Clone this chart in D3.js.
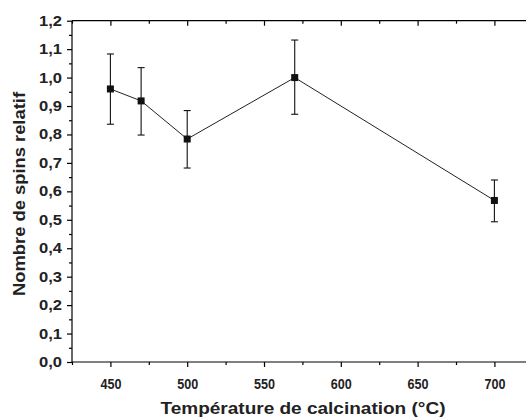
<!DOCTYPE html>
<html><head><meta charset="utf-8">
<script src="https://cdn.jsdelivr.net/npm/d3@7"></script>
<style>body{margin:0;background:#fff}svg{display:block}</style>
</head><body>
<script>
const temperatures = [450, 470, 500, 570, 700];
const spins = [0.96, 0.918, 0.784, 1.0, 0.568];
const errUpper = [1.083, 1.035, 0.884, 1.132, 0.640];
const errLower = [0.836, 0.798, 0.682, 0.871, 0.493];
const xTicks = [450, 500, 550, 600, 650, 700];
const xMinor = [425, 475, 525, 575, 625, 675, 725];
const yTicks = [0,0.1,0.2,0.3,0.4,0.5,0.6,0.7,0.8,0.9,1.0,1.1,1.2];
const yMinor = [0.05,0.15,0.25,0.35,0.45,0.55,0.65,0.75,0.85,0.95,1.05,1.15];
const xTitle = "Température de calcination (°C)";
const yTitle = "Nombre de spins relatif";

const W = 526, H = 419;
const svg = d3.select("body").append("svg").attr("width", W).attr("height", H);
const x = d3.scaleLinear().domain([425, 725]).range([72, 532.8]);
const y = d3.scaleLinear().domain([0, 1.2]).range([362, 20.7]);
const fmt = d => d3.format(".1f")(d).replace(".", ",");
const font = "'Liberation Sans', Arial, sans-serif";

const g = svg.append("g");
g.append("line").attr("x1", x(425)).attr("x2", W + 5).attr("y1", y(0)).attr("y2", y(0)).attr("stroke", "#000").attr("stroke-width", 1.2);
g.append("line").attr("x1", x(425)).attr("x2", W + 5).attr("y1", y(1.2)).attr("y2", y(1.2)).attr("stroke", "#000").attr("stroke-width", 1.2);
g.append("line").attr("x1", x(425)).attr("x2", x(425)).attr("y1", y(0)).attr("y2", y(1.2)).attr("stroke", "#000").attr("stroke-width", 1.2);

// bottom axis
const xb = d3.axisBottom(x).tickValues(xTicks).tickSize(5).tickPadding(11).tickFormat(d3.format("d"));
const gb = svg.append("g").attr("transform", `translate(0,${y(0)})`).call(xb);
gb.select(".domain").remove();
gb.selectAll("text").attr("font-family", font).attr("font-weight", "bold").attr("font-size", 15).attr("fill", "#222")
  .attr("textLength", 21).attr("lengthAdjust", "spacingAndGlyphs");
const xbm = d3.axisBottom(x).tickValues(xMinor).tickSize(3).tickFormat("");
svg.append("g").attr("transform", `translate(0,${y(0)})`).call(xbm).select(".domain").remove();
// top axis (inward ticks)
const xt = d3.axisBottom(x).tickValues(xTicks).tickSize(5).tickFormat("");
svg.append("g").attr("transform", `translate(0,${y(1.2)})`).call(xt).select(".domain").remove();
const xtm = d3.axisBottom(x).tickValues(xMinor).tickSize(3).tickFormat("");
svg.append("g").attr("transform", `translate(0,${y(1.2)})`).call(xtm).select(".domain").remove();
// left axis
const yl = d3.axisLeft(y).tickValues(yTicks).tickSize(5).tickPadding(5).tickFormat(fmt);
const gl = svg.append("g").attr("transform", `translate(${x(425)},0)`).call(yl);
gl.select(".domain").remove();
gl.selectAll("text").attr("font-family", font).attr("font-weight", "bold").attr("font-size", 14).attr("fill", "#222")
  .attr("textLength", 23).attr("lengthAdjust", "spacingAndGlyphs");
const ylm = d3.axisLeft(y).tickValues(yMinor).tickSize(3).tickFormat("");
svg.append("g").attr("transform", `translate(${x(425)},0)`).call(ylm).select(".domain").remove();
svg.selectAll(".tick line").attr("stroke", "#000").attr("stroke-width", 1.2);

// titles
svg.append("text").attr("x", 303).attr("y", 414).attr("text-anchor", "middle")
  .attr("font-family", font).attr("font-weight", "bold").attr("font-size", 16).attr("fill", "#222")
  .attr("textLength", 285).attr("lengthAdjust", "spacingAndGlyphs").text(xTitle);
svg.append("text").attr("transform", `translate(25,194) rotate(-90)`).attr("text-anchor", "middle")
  .attr("font-family", font).attr("font-weight", "bold").attr("font-size", 17).attr("fill", "#222")
  .attr("textLength", 204).attr("lengthAdjust", "spacingAndGlyphs").text(yTitle);

const data = temperatures.map((t, i) => ({t, v: spins[i], hi: errUpper[i], lo: errLower[i]}));
svg.append("path").datum(data).attr("fill", "none").attr("stroke", "#222").attr("stroke-width", 1)
  .attr("d", d3.line().x(d => x(d.t)).y(d => y(d.v)));
const eb = svg.append("g").attr("stroke", "#111").attr("stroke-width", 1.1);
data.forEach(d => {
  eb.append("line").attr("x1", x(d.t)).attr("x2", x(d.t)).attr("y1", y(d.hi)).attr("y2", y(d.lo));
  eb.append("line").attr("x1", x(d.t) - 3.5).attr("x2", x(d.t) + 3.5).attr("y1", y(d.hi)).attr("y2", y(d.hi));
  eb.append("line").attr("x1", x(d.t) - 3.5).attr("x2", x(d.t) + 3.5).attr("y1", y(d.lo)).attr("y2", y(d.lo));
});
svg.append("g").selectAll("rect").data(data).join("rect")
  .attr("x", d => x(d.t) - 3.5).attr("y", d => y(d.v) - 3.5).attr("width", 7).attr("height", 7).attr("fill", "#111");
</script>
</body></html>
